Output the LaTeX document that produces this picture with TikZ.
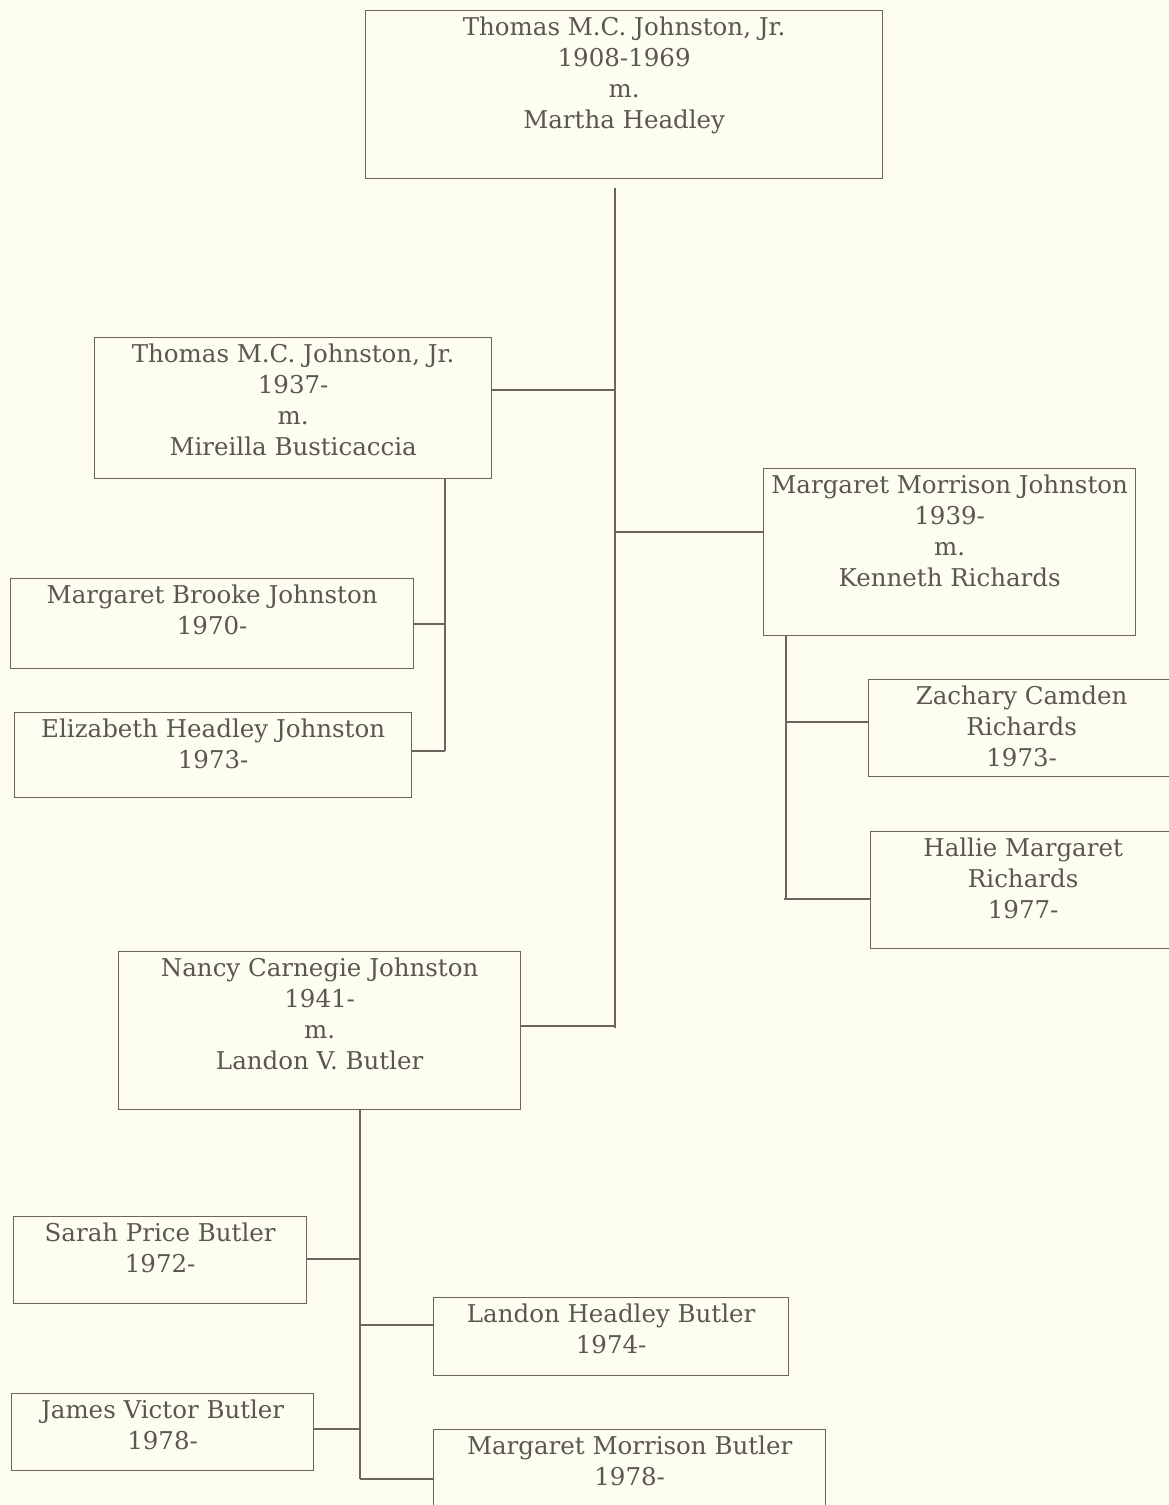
\documentclass[tikz,border=0pt]{standalone}
\usepackage{fontspec}
\setmainfont{DejaVu Serif}
\definecolor{bg}{HTML}{FDFDF0}
\definecolor{ink}{HTML}{5A5651}
\definecolor{lineink}{HTML}{6A665F}
\begin{document}
\begin{tikzpicture}[x=1pt,y=-1pt,
  box/.style={draw=lineink, line width=1.3pt, rectangle, inner sep=0pt, anchor=north west},
  txt/.style={text=ink, anchor=north, align=center, font=\fontsize{24.5}{31}\selectfont, inner sep=0pt},
  link/.style={draw=lineink, line width=1.3pt}]
\fill[bg] (0,0) rectangle (1169,1505);
\useasboundingbox (0,0) rectangle (1169,1505);
\clip (0,0) rectangle (1169,1505);

% boxes
\node[box, minimum width=517pt, minimum height=168pt] (top) at (365,10) {};
\node[box, minimum width=397pt, minimum height=141pt] (A) at (94,337) {};
\node[box, minimum width=372pt, minimum height=167pt] (B) at (763,468) {};
\node[box, minimum width=402pt, minimum height=158pt] (C) at (118,951) {};
\node[box, minimum width=403pt, minimum height=90pt] (A1) at (10,578) {};
\node[box, minimum width=397pt, minimum height=85pt] (A2) at (14,712) {};
\node[box, minimum width=306pt, minimum height=97pt] (B1) at (868,679) {};
\node[box, minimum width=305pt, minimum height=117pt] (B2) at (870,831) {};
\node[box, minimum width=293pt, minimum height=87pt] (C1) at (13,1216) {};
\node[box, minimum width=355pt, minimum height=78pt] (C2) at (433,1297) {};
\node[box, minimum width=302pt, minimum height=77pt] (C3) at (11,1393) {};
\node[box, minimum width=392pt, minimum height=100pt] (C4) at (433,1429) {};

% texts
\node[txt] (topT) at ([yshift=-7pt]top.north) {Thomas M.C. Johnston, Jr.\\1908-1969\\m.\\Martha Headley};
\node[txt] (AT) at ([yshift=-7pt]A.north) {Thomas M.C. Johnston, Jr.\\1937-\\m.\\Mireilla Busticaccia};
\node[txt] (BT) at ([yshift=-7pt]B.north) {Margaret Morrison Johnston\\1939-\\m.\\Kenneth Richards};
\node[txt] (CT) at ([yshift=-7pt]C.north) {Nancy Carnegie Johnston\\1941-\\m.\\Landon V. Butler};
\node[txt] (A1T) at ([yshift=-7pt]A1.north) {Margaret Brooke Johnston\\1970-};
\node[txt] (A2T) at ([yshift=-7pt]A2.north) {Elizabeth Headley Johnston\\1973-};
\node[txt] (B1T) at ([yshift=-7pt]B1.north) {Zachary Camden\\Richards\\1973-};
\node[txt] (B2T) at ([yshift=-7pt]B2.north) {Hallie Margaret\\Richards\\1977-};
\node[txt] (C1T) at ([yshift=-7pt]C1.north) {Sarah Price Butler\\1972-};
\node[txt] (C2T) at ([yshift=-7pt]C2.north) {Landon Headley Butler\\1974-};
\node[txt] (C3T) at ([yshift=-7pt]C3.north) {James Victor Butler\\1978-};
\node[txt] (C4T) at ([yshift=-7pt]C4.north) {Margaret Morrison Butler\\1978-};

% trunk
\coordinate (trTop) at (615,188);
\coordinate (trBot) at (615,1028);
\coordinate (jA) at (615,390);
\coordinate (jB) at (615,532);
\coordinate (jC) at (615,1026);
\draw[link] (trTop) -- (trBot);
\draw[link] (jA -| A.east) -- (jA);
\draw[link] (jB) -- (jB -| B.west);
\draw[link] (jC -| C.east) -- (jC);

% children of A
\coordinate (aTop) at (445,478);
\coordinate (ja1) at (445,624);
\coordinate (ja2) at (445,751);
\draw[link] (aTop) -- (ja2);
\draw[link] (ja1 -| A1.east) -- (ja1);
\draw[link] (ja2 -| A2.east) -- (ja2);

% children of B
\coordinate (bTop) at (786,635);
\coordinate (jb1) at (786,722);
\coordinate (jb2) at (786,899);
\draw[link] (bTop) -- (jb2);
\draw[link] (jb1) -- (jb1 -| B1.west);
\draw[link] ([xshift=-2pt]jb2) -- (jb2 -| B2.west);

% children of C
\coordinate (cTop) at (360,1109);
\coordinate (jc1) at (360,1259);
\coordinate (jc2) at (360,1325);
\coordinate (jc3) at (360,1429);
\coordinate (jc4) at (360,1479);
\draw[link] (cTop) -- (jc4);
\draw[link] (jc1 -| C1.east) -- (jc1);
\draw[link] (jc2) -- (jc2 -| C2.west);
\draw[link] (jc3 -| C3.east) -- (jc3);
\draw[link] (jc4) -- (jc4 -| C4.west);
\end{tikzpicture}
\end{document}
